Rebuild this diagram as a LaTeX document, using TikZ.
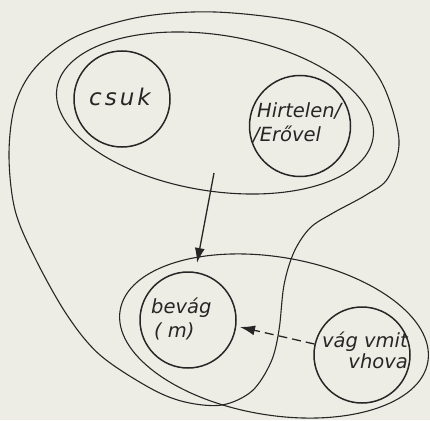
\documentclass[tikz,border=0pt]{standalone}
\usepackage{fontspec}
\newfontfamily\hand{DejaVu Sans}
\usetikzlibrary{shapes.geometric,arrows.meta}
\definecolor{paper}{RGB}{238,237,229}
\definecolor{ink}{RGB}{38,38,38}
\begin{document}
\begin{tikzpicture}[x=1pt,y=-1pt,
  ring/.style={draw=ink, line width=1.5pt, circle, minimum size=#1, inner sep=0pt},
  oval/.style={draw=ink, line width=1.1pt, ellipse, inner sep=0pt},
  lbl/.style={font=\hand\itshape\fontsize{19.5}{22}\selectfont, text=ink, inner sep=0pt},
  tipped/.style={-{Latex[length=15pt,width=10pt]}},
]
\fill[paper] (0,0) rectangle (430,420);
\useasboundingbox (0,0) rectangle (430,420);

% big blob
\draw[ink, line width=1.1pt] plot[smooth cycle, tension=0.55] coordinates {
  (215,12) (300,22) (348,43) (382,83) (399,140) (388,178) (366,195) (333,213)
  (310,228) (294,252) (284,285) (279,330) (271,362) (252,391) (222,405)
  (185,402) (150,388) (100,355) (67,315) (35,258) (15,210) (9,155) (15,105)
  (35,68) (75,37) (140,17)};

% ovals
\node[oval, minimum width=320pt, minimum height=156pt, rotate=-9] (top) at (215,113) {};
\node[oval, minimum width=312pt, minimum height=158pt, rotate=-9.5] (low) at (274,336) {};

% circles
\node[ring=96pt] (csuk) at (122,99) {};
\node[ring=101pt] (hirt) at (300,126) {};
\node[ring=96pt] (bevag) at (188,320) {};
\node[ring=96pt] (vag) at (362,355) {};

% labels
\node[lbl, font=\hand\itshape\fontsize{23}{26}\selectfont] (tcsuk) at (120,97) {c\kern3pt s\kern3pt u\kern3pt k};
\node[lbl, anchor=base west] (th1) at (257,117) {Hirtelen/};
\node[lbl, anchor=base west] (th2) at (253,141) {/Erővel};
\node[lbl, anchor=base west] (tb1) at (151,313) {bevág};
\node[lbl, anchor=base west] (tb2) at (154,337) {( m)};
\node[lbl, anchor=base east] (tv1) at (408,347) {vág vmit};
\node[lbl, anchor=base east] (tv2) at (408,368) {vhova};

% arrows
\coordinate (a1s) at (214,173);
\coordinate (a1e) at (197,263);
\draw[ink, line width=1.3pt, tipped] (a1s) -- (a1e);
\coordinate (a2e) at (240,327);
\draw[ink, line width=1.3pt, tipped, dash pattern=on 9pt off 5pt] (vag.167) -- (a2e);
\end{tikzpicture}
\end{document}
